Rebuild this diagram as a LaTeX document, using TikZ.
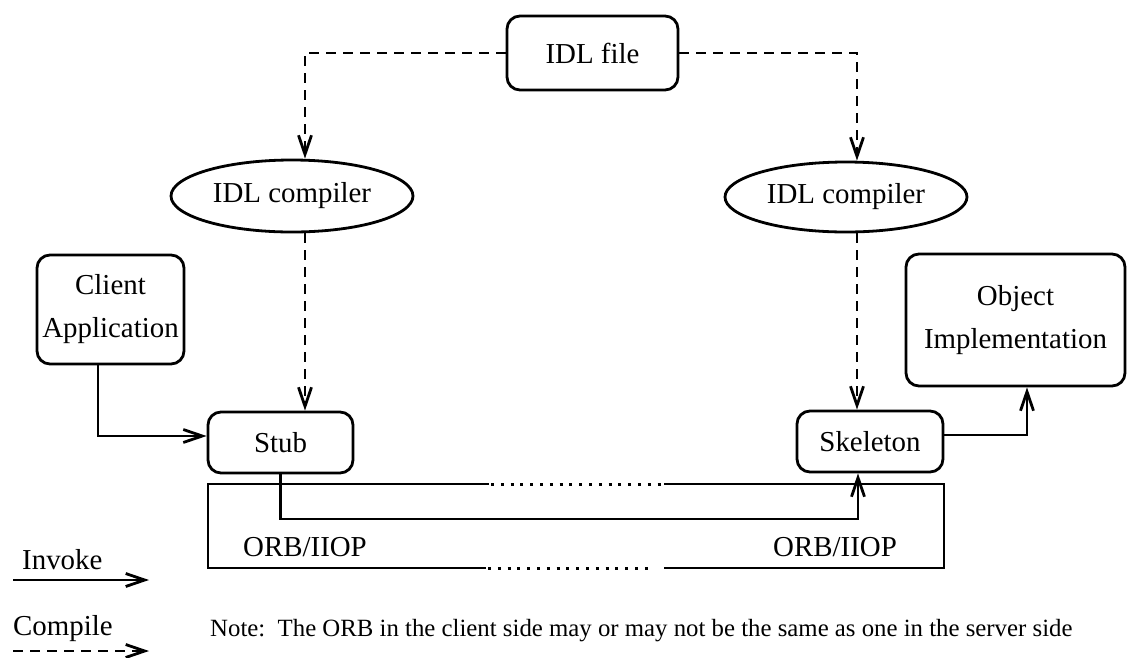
\documentclass[tikz,border=0pt]{standalone}
\usepackage{fontspec}
\setmainfont{Liberation Serif}
\usetikzlibrary{arrows.meta,shapes.geometric}
\begin{document}
\begin{tikzpicture}[x=1pt,y=-1pt,
  every node/.style={inner sep=0pt,font=\fontsize{28.9}{43}\selectfont},
  rbox/.style={draw,line width=2.8pt,rounded corners=13pt,align=center},
  ell/.style={draw,line width=2.8pt,ellipse,minimum width=242pt,minimum height=72pt},
  invoke/.style={line width=2.8pt,-{Straight Barb[length=19pt,width=13pt,line width=2.8pt]}},
  compile/.style={line width=2.8pt,dash pattern=on 10pt off 7pt,-{Straight Barb[length=19pt,width=13pt,line width=2.8pt]}},
  orbline/.style={line width=2.8pt},
  orbdots/.style={line width=3pt,dash pattern=on 3pt off 6.8pt},
  small/.style={font=\fontsize{24.8}{30}\selectfont}
  ]
\useasboundingbox (0,0) rectangle (1128,657);

% nodes
\node[rbox,minimum width=171pt,minimum height=74pt] (idl) at (592.5,53) {IDL file};
\node[ell] (c1) at (292,196) {IDL compiler};
\node[ell,minimum height=70pt] (c2) at (846,197) {IDL compiler};
\node[rbox,minimum width=147pt,minimum height=109pt] (client) at (110.5,309.5) {Client\\Application};
\node[rbox,minimum width=219pt,minimum height=132pt] (obj) at (1015.5,320) {Object\\Implementation};
\node[rbox,minimum width=145pt,minimum height=61pt] (stub) at (280.5,442.5) {Stub};
\node[rbox,minimum width=146pt,minimum height=61pt] (skel) at (870,441.5) {Skeleton};

% coordinates
\coordinate (kl) at (305,53);
\coordinate (kr) at (857,53);
\coordinate (ca) at (98,436);
\coordinate (sa) at (1027,435);
\coordinate (ia) at (280.5,519);
\coordinate (ib) at (858,519);

% compile arrows
\draw[compile] (idl.west) -- (kl) -- (kl |- c1.north);
\draw[compile] (idl.east) -- (kr) -- (kr |- c2.north);
\draw[compile] (c1.south -| kl) -- (stub.north -| kl);
\draw[compile] (c2.south -| kr) -- (skel.north -| kr);

% invoke arrows
\draw[invoke] (client.south -| ca) -- (ca) -- (stub.west |- ca);
\draw[invoke] (skel.east |- sa) -- (sa) -- (obj.south -| sa);
\draw[invoke] (stub.south) -- (ia) -- (ib) -- (skel.south -| ib);

% ORB box
\coordinate (otl) at (208,484);
\coordinate (otr) at (944,484);
\coordinate (obl) at (208,568);
\coordinate (obr) at (944,568);
\draw[orbline,line cap=rect] (488,484) -- (otl) -- (obl) -- (485,568);
\draw[orbline,line cap=rect] (665,484) -- (otr) -- (obr) -- (665,568);
\draw[orbdots] (491,484) -- (664,484);
\draw[orbdots] (488,568) -- (652,568);
\node (orb1) at (305,547) {ORB/IIOP};
\node (orb2) at (835,547) {ORB/IIOP};

% legend
\node[anchor=west] (linv) at (22,560) {Invoke};
\coordinate (la1) at (13,580);
\coordinate (la2) at (149,580);
\draw[invoke] (la1) -- (la2);
\node[anchor=west] (lcomp) at (13,629) {Compile};
\coordinate (lb1) at (13,651);
\coordinate (lb2) at (149,651);
\draw[compile] (lb1) -- (lb2);
\node[small,anchor=west] (note) at (210,631) {Note:\ \ The ORB in the client side may or may not be the same as one in the server side};
\end{tikzpicture}
\end{document}
